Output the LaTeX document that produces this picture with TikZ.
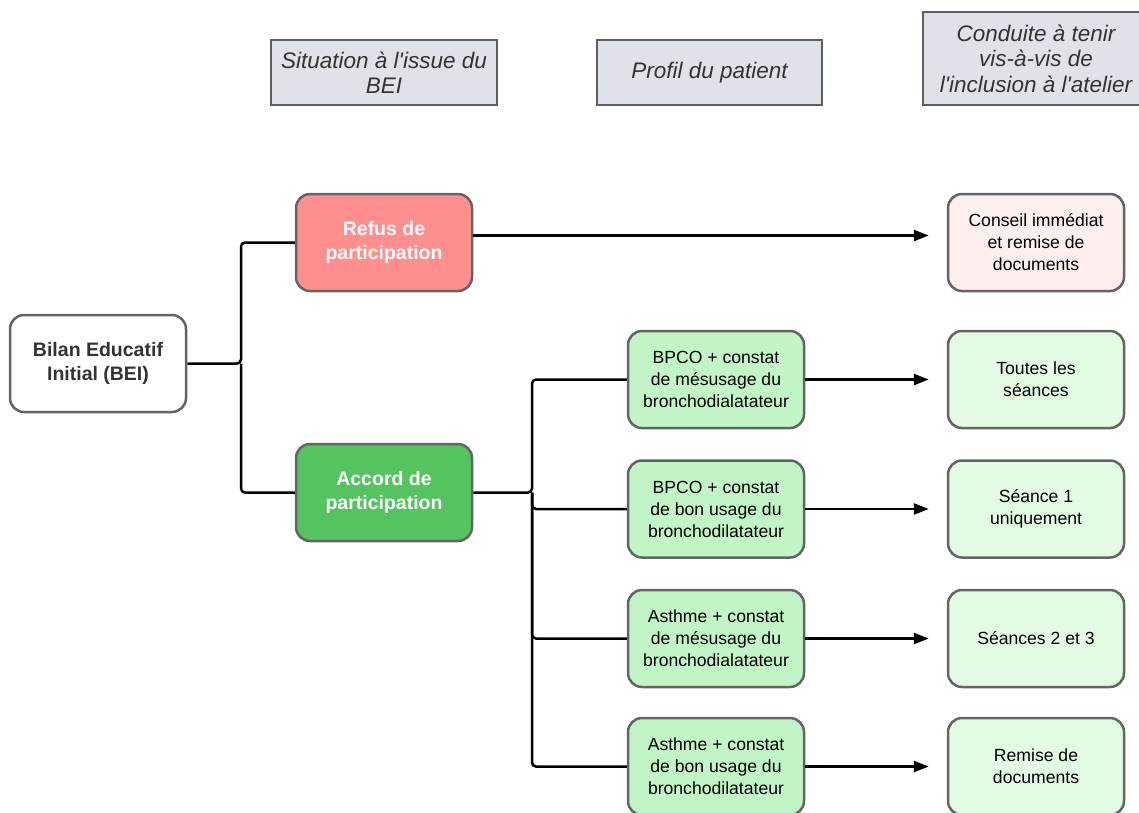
\documentclass[tikz,border=0pt]{standalone}
\usepackage{fontspec}
\setmainfont{Liberation Sans}
\usetikzlibrary{arrows.meta}
\definecolor{hdrfill}{RGB}{223,226,232}
\definecolor{hdrline}{RGB}{95,95,95}
\definecolor{boxline}{RGB}{100,100,100}
\definecolor{refusfill}{RGB}{255,143,143}
\definecolor{accordfill}{RGB}{85,195,95}
\definecolor{proffill}{RGB}{194,245,198}
\definecolor{resfill}{RGB}{227,250,227}
\definecolor{pinkfill}{RGB}{255,238,238}
\definecolor{darktext}{RGB}{51,51,51}
\begin{document}
\begin{tikzpicture}[x=1pt,y=-1pt,
  hdr/.style={draw=hdrline, line width=2pt, fill=hdrfill, align=center, inner sep=0pt,
    font=\fontsize{22.5}{25.5}\selectfont\itshape, text=darktext},
  rbox/.style={draw=boxline, line width=2.5pt, rounded corners=14pt, align=center,
    inner sep=0pt, minimum width=176pt, minimum height=97pt},
  bold/.style={font=\fontsize{19.5}{24.5}\selectfont\bfseries},
  norm/.style={font=\fontsize{17.6}{22}\selectfont, text=black},
  conn/.style={line width=2.5pt, rounded corners=4pt},
  arr/.style={line width=2.5pt, -{Triangle[length=15pt,width=11pt]}}
]
\useasboundingbox (0,0) rectangle (1139,812);
\begin{scope}
\clip (0,0) rectangle (1139,812);
% headers
\node[hdr, minimum width=226pt, minimum height=65pt] (h1) at (384,72.5) {Situation à l\textquotesingle issue du\\BEI};
\node[hdr, minimum width=225pt, minimum height=65pt] (h2) at (709.5,72.5) {Profil du patient};
\node[hdr, minimum width=226pt, minimum height=93pt] (h3) at (1036,58.5) {Conduite à tenir\\vis-à-vis de\\l\textquotesingle inclusion à l\textquotesingle atelier};
% main nodes
\node[rbox, fill=white, bold, text=darktext] (bei) at (98,363.5) {Bilan Educatif\\Initial (BEI)};
\node[rbox, fill=refusfill, bold, text=white] (refus) at (384,242.5) {Refus de\\participation};
\node[rbox, fill=accordfill, bold, text=white] (accord) at (384,492.5) {Accord de\\participation};
% profiles
\node[rbox, fill=proffill, norm] (p1) at (716,379.5) {BPCO + constat\\de mésusage du\\bronchodialatateur};
\node[rbox, fill=proffill, norm] (p2) at (716,509) {BPCO + constat\\de bon usage du\\bronchodilatateur};
\node[rbox, fill=proffill, norm] (p3) at (716,638.5) {Asthme + constat\\de mésusage du\\bronchodialatateur};
\node[rbox, fill=proffill, norm] (p4) at (716,766.5) {Asthme + constat\\de bon usage du\\bronchodilatateur};
% results
\node[rbox, fill=pinkfill, norm] (r0) at (1036,242.5) {Conseil immédiat\\et remise de\\documents};
\node[rbox, fill=resfill, norm] (r1) at (1036,379.5) {Toutes les\\séances};
\node[rbox, fill=resfill, norm] (r2) at (1036,509) {Séance 1\\uniquement};
\node[rbox, fill=resfill, norm] (r3) at (1036,638.5) {Séances 2 et 3};
\node[rbox, fill=resfill, norm] (r4) at (1036,766.5) {Remise de\\documents};
% connectors
\coordinate (j1) at (241,363.5);
\coordinate (j2) at (532,492.5);
\draw[conn] (bei.east) -- (j1) |- (refus.west);
\draw[conn] (j1) |- (accord.west);
\draw[conn] (accord.east) -- (j2) |- (p1.west);
\draw[conn] (j2) |- (p2.west);
\draw[conn] (j2) |- (p3.west);
\draw[conn] (j2) |- (p4.west);
\draw[arr] ([yshift=7pt]refus.east) -- ([xshift=-18pt,yshift=7pt]r0.west);
\draw[arr] (p1.east) -- ([xshift=-18pt]r1.west);
\draw[arr] (p2.east) -- ([xshift=-18pt]r2.west);
\draw[arr] (p3.east) -- ([xshift=-18pt]r3.west);
\draw[arr] (p4.east) -- ([xshift=-18pt]r4.west);
\end{scope}
\end{tikzpicture}
\end{document}
